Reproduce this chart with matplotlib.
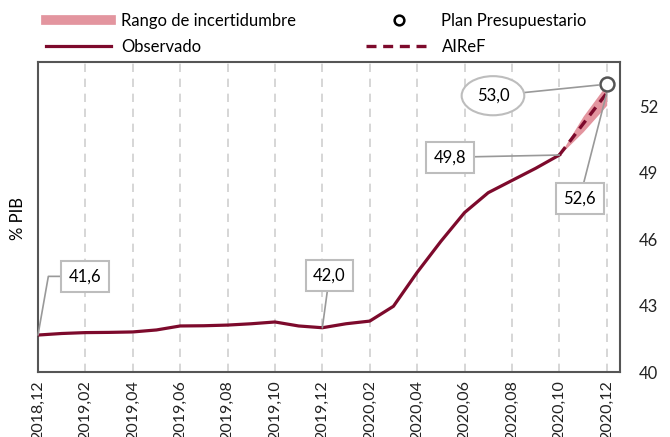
import numpy as np
import matplotlib
matplotlib.use("Agg")
import matplotlib.pyplot as plt
from matplotlib.lines import Line2D

###
### Data
###
months = ["2018,12", "2019,01", "2019,02", "2019,03", "2019,04", "2019,05",
          "2019,06", "2019,07", "2019,08", "2019,09", "2019,10", "2019,11",
          "2019,12", "2020,01", "2020,02", "2020,03", "2020,04", "2020,05",
          "2020,06", "2020,07", "2020,08", "2020,09", "2020,10", "2020,11",
          "2020,12"]
observado = [41.67, 41.74, 41.78, 41.79, 41.81, 41.90, 42.08, 42.09, 42.12,
             42.18, 42.26, 42.08, 42.00, 42.18, 42.30, 42.97, 44.50, 45.90,
             47.20, 48.10, 48.65, 49.20, 49.80]
airef_idx = [22, 23, 24]
airef = [49.80, 51.20, 52.60]
banda_lo = [49.80, 50.85, 52.05]
banda_hi = [49.80, 51.55, 53.00]
plan_idx = 24
plan_val = 53.0
yticks = [40, 43, 46, 49, 52]

###
### Style
###
plt.rcParams.update({'font.family': ['Lato', 'DejaVu Sans'], 'font.size': 12})
red = '#7d0a2c'
pink = '#e3959f'
edge = '#555555'
boxc = '#bdbdbd'

fig = plt.figure(figsize=(6.7, 4.37), dpi=100)
ax = fig.add_axes([0.0567, 0.1487, 0.8683, 0.7093])

x = np.arange(len(months))
ax.fill_between(airef_idx, banda_lo, banda_hi, color=pink, lw=0, zorder=2)
ax.plot(x[:len(observado)], observado, color=red, lw=2.3, zorder=3,
        solid_joinstyle='round')
ax.plot(airef_idx, airef, color=red, lw=2.4, ls=(0, (3, 2)), zorder=3)
ax.plot(plan_idx, plan_val, 'o', ms=10, mfc='white', mec=edge, mew=1.8,
        zorder=5)

###
### Axes
###
ax.set_xlim(0, 24.55)
ax.set_ylim(40, 54)
ax.set_xticks(x[::2])
ax.set_xticklabels(months[::2], rotation=90, fontsize=11.5)
ax.set_yticks(yticks)
ax.yaxis.tick_right()
ax.tick_params(axis='both', length=0, colors='#222222')
ax.tick_params(axis='y', pad=14, labelsize=12)
ax.tick_params(axis='x', pad=6)
for s in ax.spines.values():
    s.set_color(edge)
    s.set_linewidth(1.5)
ax.grid(axis='x', color='#d0d0d0', ls=(0, (5, 4)), lw=1.2)
ax.set_axisbelow(True)
fig.text(0.027, 0.5, '% PIB', rotation=90, ha='center', va='center',
         fontsize=12)

###
### Annotations
###
bprops = dict(boxstyle='square,pad=0.45', fc='white', ec=boxc, lw=1.5)
aprops = dict(arrowstyle='-', color='#999999', lw=1.2, shrinkA=0, shrinkB=0)
ax.annotate('41,6', xy=(0, observado[0]), xytext=(1.98, 44.32),
            ha='center', va='center', bbox=bprops,
            arrowprops=dict(aprops, connectionstyle='angle,angleA=0,angleB=80,rad=0'))
ax.annotate('42,0', xy=(12, observado[12]), xytext=(12.3, 44.37),
            ha='center', va='center', bbox=bprops, arrowprops=aprops)
ax.annotate('49,8', xy=(22, observado[22]), xytext=(17.38, 49.70),
            ha='center', va='center', bbox=bprops, arrowprops=aprops)
ax.annotate('52,6', xy=(24, airef[-1]), xytext=(22.86, 47.84),
            ha='center', va='center', bbox=bprops, arrowprops=aprops)
ax.annotate('53,0', xy=(plan_idx, plan_val), xytext=(19.2, 52.48),
            ha='center', va='center',
            bbox=dict(boxstyle='ellipse,pad=0.35', fc='white', ec=boxc, lw=1.5),
            arrowprops=dict(aprops, shrinkB=6))

###
### Legend
###
handles = [Line2D([], [], color=pink, lw=7),
           Line2D([], [], color=red, lw=2.3),
           Line2D([], [], marker='o', ls='none', mfc='white', mec='black',
                  mew=1.8, ms=7),
           Line2D([], [], color=red, lw=2.4, ls=(0, (3, 2)))]
labels = ['Rango de incertidumbre', 'Observado', 'Plan Presupuestario', 'AIReF']
fig.legend(handles, labels, ncol=2, frameon=False, loc='upper left',
           bbox_to_anchor=(0.047, 1.005), columnspacing=4.2, handlelength=3.9,
           handletextpad=0.6, labelspacing=0.6, fontsize=12)

plt.savefig('out.png', dpi=100)
